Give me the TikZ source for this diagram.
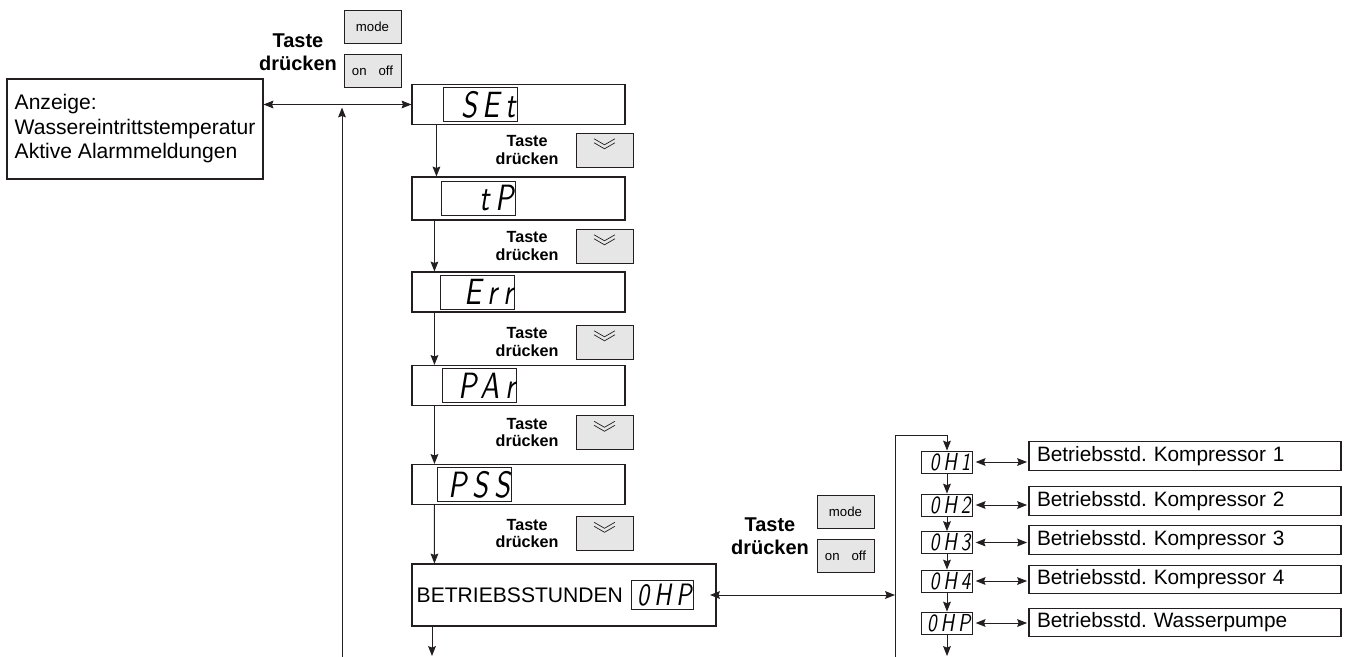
\documentclass[tikz,border=0pt]{standalone}
\usepackage{fontspec}
\setmainfont{Liberation Sans}
\newfontfamily\segfont[LetterSpace=16,FakeStretch=0.78]{lmsans10-oblique.otf}
\usepackage{tikz}
\usetikzlibrary{arrows.meta,positioning,calc}
\definecolor{LineDark}{HTML}{231F20}
\definecolor{KeyGrey}{HTML}{E6E6E6}
\frenchspacing

\begin{document}
\begin{tikzpicture}[
    menu/.style={draw=LineDark, line width=0.8pt, minimum width=5.325cm,
                 minimum height=1cm, inner sep=0pt},
    info/.style={draw=LineDark, line width=0.8pt, minimum width=7.8cm, minimum height=0.7cm,
                 text width=7.4cm, align=left, inner xsep=0.2cm,
                 font=\fontsize{14.8}{16}\selectfont},
    seg/.style={draw=LineDark, line width=0.6pt, minimum width=1.85cm, minimum height=0.85cm,
                text width=1.75cm, align=right, inner xsep=0.05cm, inner ysep=0pt,
                font=\segfont\fontsize{26}{26}\selectfont},
    segsmall/.style={seg, minimum width=1.25cm, minimum height=0.55cm, text width=1.17cm,
                     font=\segfont\fontsize{17.5}{17.5}\selectfont},
    btn/.style={draw=LineDark, fill=KeyGrey, line width=0.7pt, minimum width=1.425cm,
                minimum height=0.825cm, font=\fontsize{9.4}{10}\selectfont},
    downbtn/.style={btn, minimum height=0.85cm,
                path picture={
                  \draw[LineDark, line width=0.5pt]
                    ([shift={(-0.26,0.28)}]path picture bounding box.center)
                    -- ([shift={(0,0.13)}]path picture bounding box.center)
                    -- ([shift={(0.26,0.28)}]path picture bounding box.center)
                    ([shift={(-0.26,0.18)}]path picture bounding box.center)
                    -- ([shift={(0,0.03)}]path picture bounding box.center)
                    -- ([shift={(0.26,0.18)}]path picture bounding box.center);}},
    taste/.style={align=center, font=\fontsize{11.5}{12.2}\selectfont\bfseries},
    tasteL/.style={align=center, font=\fontsize{14.2}{16.4}\selectfont\bfseries},
    flow/.style={-{Stealth[length=7pt,width=5.5pt,inset=1pt]}, LineDark, line width=0.7pt},
    dbl/.style={{Stealth[length=7pt,width=5.5pt,inset=1pt]}-{Stealth[length=7pt,width=5.5pt,inset=1pt]},
                LineDark, line width=0.7pt},
  ]
    \useasboundingbox (0,0) rectangle (33.65,-16.425);

    % Anzeige
    \node[draw=LineDark, line width=0.8pt, minimum width=6.4cm, minimum height=2.5cm,
          align=left, font=\fontsize{15}{17.4}\selectfont] (anz) at (3.375,-3.225)
          {Anzeige:\\Wassereintrittstemperatur\\Aktive Alarmmeldungen};

    % top keys
    \node[btn] (mode1) at (9.3125,-0.6625) {mode};
    \node[btn] (onoff1) at (9.3125,-1.7625) {on\hspace{0.9em}off};
    \node[tasteL] (t0) at (7.45,-1.3) {Taste\\drücken};

    % menu
    \node[menu] (set) at (12.9625,-2.6125) {};
    \node[seg, anchor=west] (dset) at ([xshift=0.8cm]set.west) {SEt};
    \node[menu, minimum height=1.075cm] (tp) at (12.9625,-4.9625) {};
    \node[seg, anchor=west] (dtp) at ([xshift=0.75cm]tp.west) {tP};
    \node[menu] (err) at (12.9625,-7.3) {};
    \node[seg, anchor=west] (derr) at ([xshift=0.725cm]err.west) {Err};
    \node[menu] (par) at (12.9625,-9.6375) {};
    \node[seg, anchor=west] (dpar) at ([xshift=0.775cm]par.west) {PAr};
    \node[menu] (pss) at (12.9625,-12.1125) {};
    \node[seg, anchor=west] (dpss) at ([xshift=0.65cm]pss.west) {PSS};

    % down keys
    \node[downbtn] (k1) at (15.1125,-3.75) {};
    \node[taste, left=0.3cm of k1] (t1) {Taste\\drücken};
    \node[downbtn] (k2) at (15.1125,-6.15) {};
    \node[taste, left=0.3cm of k2] (t2) {Taste\\drücken};
    \node[downbtn] (k3) at (15.1125,-8.55) {};
    \node[taste, left=0.3cm of k3] (t3) {Taste\\drücken};
    \node[downbtn] (k4) at (15.1125,-10.8125) {};
    \node[taste, left=0.3cm of k4] (t4) {Taste\\drücken};
    \node[downbtn] (k5) at (15.1125,-13.3375) {};
    \node[taste, left=0.3cm of k5] (t5) {Taste\\drücken};

    % Betriebsstunden
    \node[menu, minimum width=7.6cm, minimum height=1.55cm] (betr) at (14.1,-14.875) {};
    \node[anchor=west, inner sep=0pt, font=\fontsize{15}{15}\selectfont] (betrtext)
          at ([xshift=0.125cm]betr.west) {BETRIEBSSTUNDEN};
    \node[seg, minimum width=1.525cm, minimum height=0.72cm, text width=1.45cm,
          font=\segfont\fontsize{22}{22}\selectfont, right=0.2cm of betrtext] (dbetr) {0HP};

    % middle keys
    \node[btn] (mode2) at (21.1375,-12.7875) {mode};
    \node[btn] (onoff2) at (21.1375,-13.8875) {on\hspace{0.9em}off};
    \node[tasteL] (t6) at (19.25,-13.4) {Taste\\drücken};

    % hours
    \node[segsmall] (oh1) at (23.675,-11.55) {0H1};
    \node[segsmall] (oh2) at (23.675,-12.625) {0H2};
    \node[segsmall] (oh3) at (23.675,-13.5625) {0H3};
    \node[segsmall] (oh4) at (23.675,-14.525) {0H4};
    \node[segsmall] (ohp) at (23.675,-15.575) {0HP};
    \node[info] (b1) at (29.625,-11.4) {Betriebsstd. Kompressor 1};
    \node[info] (b2) at (29.625,-12.525) {Betriebsstd. Kompressor 2};
    \node[info] (b3) at (29.625,-13.5) {Betriebsstd. Kompressor 3};
    \node[info] (b4) at (29.625,-14.4875) {Betriebsstd. Kompressor 4};
    \node[info] (b5) at (29.625,-15.5625) {Betriebsstd. Wasserpumpe};

    % free ends
    \coordinate (lbot) at (8.55,-16.425);
    \coordinate (mbot) at (10.8,-16.4);
    \coordinate (rbot) at (22.375,-16.425);
    \coordinate (obot) at (23.675,-16.4);

    % connectors
    \draw[dbl] (anz.east |- set.west) -- (set.west);
    \draw[flow] (lbot) -- ([yshift=-0.075cm]lbot |- set.west);
    \draw[flow] ([xshift=0.625cm]set.south west) -- ([xshift=0.625cm]tp.north west);
    \draw[flow] ([xshift=0.575cm]tp.south west) -- ([xshift=0.575cm]err.north west);
    \draw[flow] ([xshift=0.575cm]err.south west) -- ([xshift=0.575cm]par.north west);
    \draw[flow] ([xshift=0.575cm]par.south west) -- ([xshift=0.575cm]pss.north west);
    \draw[flow] ([xshift=0.575cm]pss.south west) -- ([xshift=0.575cm]betr.north west);
    \draw[flow] (betr.south -| mbot) -- (mbot);
    \draw[dbl] ([xshift=0.4cm]dbetr.east) -- (dbetr.east -| rbot);
    \draw[flow] (rbot) -- (22.375,-10.875) -| (oh1.north);
    \draw[flow] (oh1) -- (oh2);
    \draw[flow] (oh2) -- (oh3);
    \draw[flow] (oh3) -- (oh4);
    \draw[flow] (oh4) -- (ohp);
    \draw[flow] (ohp) -- (obot);
    \draw[dbl, shorten <=2pt, shorten >=1pt] (oh1.east) -- (oh1.east -| b1.west);
    \draw[dbl, shorten <=2pt, shorten >=1pt] (oh2.east) -- (oh2.east -| b2.west);
    \draw[dbl, shorten <=2pt, shorten >=1pt] (oh3.east) -- (oh3.east -| b3.west);
    \draw[dbl, shorten <=2pt, shorten >=1pt] (oh4.east) -- (oh4.east -| b4.west);
    \draw[dbl, shorten <=2pt, shorten >=1pt] (ohp.east) -- (ohp.east -| b5.west);
  \end{tikzpicture}
\end{document}
